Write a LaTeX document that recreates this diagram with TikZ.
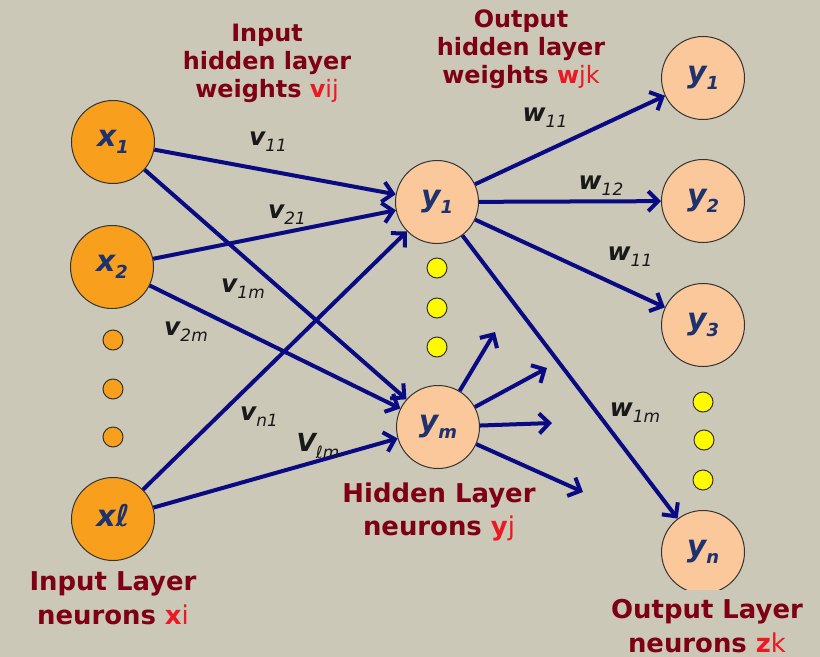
\documentclass[tikz,border=0pt]{standalone}
\usepackage{fontspec}
\setmainfont{DejaVu Sans}
\usetikzlibrary{arrows.meta}

\definecolor{bgcol}{RGB}{203,200,183}
\definecolor{inorange}{RGB}{248,160,30}
\definecolor{peach}{RGB}{250,200,155}
\definecolor{arrowblue}{RGB}{10,10,130}
\definecolor{nodeblue}{RGB}{30,50,110}
\definecolor{darkred}{RGB}{125,0,20}
\definecolor{brightred}{RGB}{235,25,35}
\definecolor{dotyellow}{RGB}{255,250,0}

% neuron text and weight text with a lowered index
\newcommand{\nrn}[2]{#1\raisebox{-0.22em}{\fontsize{18}{18}\selectfont #2}}
\newcommand{\wgt}[2]{#1\raisebox{-0.25em}{\fontsize{17}{17}\selectfont\mdseries #2}}
\newcommand{\idx}[2]{\textcolor{brightred}{#1{\mdseries #2}}}

\begin{document}
\begin{tikzpicture}[x=1bp,y=-1bp]
    \tikzstyle{inp} = [circle,draw=black!80,line width=1pt,fill=inorange,minimum size=83bp,inner sep=0pt,
        text=nodeblue,font=\bfseries\itshape\fontsize{30}{30}\selectfont]
    \tikzstyle{hid} = [inp,fill=peach]
    \tikzstyle{dot} = [circle,draw=black!80,line width=1pt,minimum size=20bp,inner sep=0pt]
    \tikzstyle{conn} = [draw=arrowblue,line width=4bp,-{Straight Barb[length=10bp,width=20bp]}]
    \tikzstyle{wt} = [inner sep=0pt,text=black!90,font=\bfseries\itshape\fontsize{25}{25}\selectfont]
    \tikzstyle{ann} = [align=center,text=darkred,font=\bfseries\fontsize{24}{28}\selectfont]
    \tikzstyle{annb} = [ann,font=\bfseries\fontsize{26}{34}\selectfont]

    \useasboundingbox (0,0) rectangle (820,657);
    \fill[bgcol] (0,0) rectangle (820,657);

    % input layer
    \node[inp] (x1) at (113,142) {\nrn{x}{1}};
    \node[inp] (x2) at (112,267) {\nrn{x}{2}};
    \node[inp] (xl) at (113,519) {\nrn{xℓ}{}};
    \node[dot,fill=inorange] (xd1) at (113,340) {};
    \node[dot,fill=inorange] (xd2) at (113,389) {};
    \node[dot,fill=inorange] (xd3) at (113,437) {};

    % hidden layer
    \node[hid] (h1) at (437,202) {\nrn{y}{1}};
    \node[hid] (hm) at (438,427) {\nrn{y}{m}};
    \node[dot,fill=dotyellow] (hd1) at (437,268) {};
    \node[dot,fill=dotyellow] (hd2) at (437,308) {};
    \node[dot,fill=dotyellow] (hd3) at (437,347) {};

    % output layer
    \node[hid] (o1) at (703,78) {\nrn{y}{1}};
    \node[hid] (o2) at (703,201) {\nrn{y}{2}};
    \node[hid] (o3) at (703,325) {\nrn{y}{3}};
    \node[hid] (on) at (703,552) {\nrn{y}{n}};
    \node[dot,fill=dotyellow] (od1) at (703,402) {};
    \node[dot,fill=dotyellow] (od2) at (704,440) {};
    \node[dot,fill=dotyellow] (od3) at (703,480) {};

    % free ends leaving y_m
    \coordinate (s1) at (495,332);
    \coordinate (s2) at (547,368);
    \coordinate (s3) at (552,423);
    \coordinate (s4) at (583,492);

    \draw[conn] (x1) -- (h1);
    \draw[conn] (x1) -- (hm);
    \draw[conn] (x2) -- (h1);
    \draw[conn] (x2) -- (hm);
    \draw[conn] (xl) -- (h1);
    \draw[conn] (xl) -- (hm);
    \draw[conn] (h1) -- (o1);
    \draw[conn] (h1) -- (o2);
    \draw[conn] (h1) -- (o3);
    \draw[conn] (h1) -- (on);
    \foreach \s in {s1,s2,s3,s4}
        \draw[conn] (hm) -- (\s);

    % weights
    \node[wt] (v11) at (268,142) {\wgt{v}{11}};
    \node[wt] (v21) at (287,215) {\wgt{v}{21}};
    \node[wt] (v1m) at (243,289) {\wgt{v}{1m}};
    \node[wt] (v2m) at (186,332) {\wgt{v}{2m}};
    \node[wt] (vn1) at (259,417) {\wgt{v}{n1}};
    \node[wt] (vlm) at (318,446) {\wgt{V}{ℓm}};
    \node[wt] (w11) at (545,118) {\wgt{w}{11}};
    \node[wt] (w12) at (601,186) {\wgt{w}{12}};
    \node[wt] (w11b) at (630,257) {\wgt{w}{11}};
    \node[wt] (w1m) at (635,413) {\wgt{w}{1m}};

    % annotations
    \node[ann] (inw) at (267,63) {Input\\hidden layer\\weights \idx{v}{ij}};
    \node[ann] (outw) at (521,49) {Output\\hidden layer\\weights \idx{w}{jk}};
    \node[annb] (hidlab) at (439,512) {Hidden Layer\\neurons \idx{y}{j}};
    \node[annb] (inlab) at (113,598) {Input Layer\\neurons \idx{x}{i}};
    \node[annb,fill=bgcol,inner xsep=2bp,inner ysep=9bp] (outlab) at (707,626) {Output Layer\\neurons \idx{z}{k}};
\end{tikzpicture}
\end{document}
